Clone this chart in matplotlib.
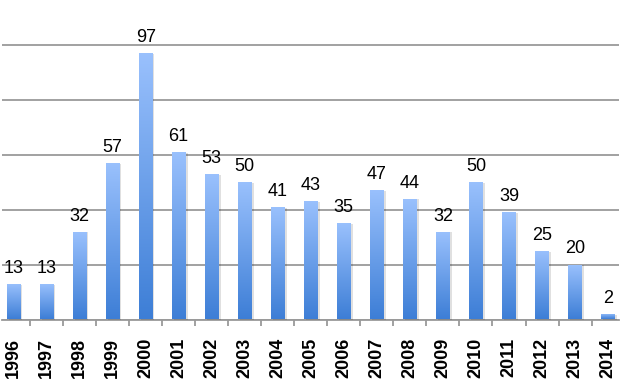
import numpy as np
import matplotlib
matplotlib.use("Agg")
import matplotlib.pyplot as plt
from matplotlib import patheffects as pe
from matplotlib.colors import LinearSegmentedColormap

years = [str(y) for y in range(1996, 2015)]
counts = [13, 13, 32, 57, 97, 61, 53, 50, 41, 43, 35, 47, 44, 32, 50, 39, 25, 20, 2]

TOP_COLOR = "#9ac1fd"
BOTTOM_COLOR = "#3d7ed6"
GRID_COLOR = "#9a9a9a"

plt.rcParams["font.family"] = ["Liberation Sans", "DejaVu Sans"]

fig = plt.figure(figsize=(6.21, 3.84), dpi=100)
ax = fig.add_axes([2 / 621, 1 - 319.5 / 384, 617 / 621, 319.5 / 384])

x = np.arange(len(years))
bars = ax.bar(x, counts, width=0.41, color="none", zorder=3,
              path_effects=[pe.SimplePatchShadow(offset=(1.5, -0.5), shadow_rgbFace="#000000", alpha=0.12)])

cmap = LinearSegmentedColormap.from_list("barfill", [BOTTOM_COLOR, TOP_COLOR])
grad = np.linspace(0, 1, 256).reshape(-1, 1)
for bar in bars:
    bx, by = bar.get_xy()
    bw, bh = bar.get_width(), bar.get_height()
    im = ax.imshow(grad, extent=[bx, bx + bw, by, by + bh], origin="lower",
                   aspect="auto", cmap=cmap, zorder=4)
    im.set_clip_path(bar)

for xi, val in zip(x, counts):
    ax.annotate(str(val), (xi, val), textcoords="offset points", xytext=(0, 8),
                ha="center", va="baseline", fontsize=13, color="black", zorder=5)

ax.set_xlim(-0.348, 18.33)
ax.set_ylim(0, 116.4)

ax.set_yticks([0, 20, 40, 60, 80, 100])
ax.yaxis.grid(True, color=GRID_COLOR, linewidth=1.3, zorder=0)
ax.tick_params(axis="y", left=False, labelleft=False)

ax.set_xticks(x)
ax.set_xticklabels(years, rotation=90, fontsize=13, fontweight="bold")
ax.tick_params(axis="x", which="major", length=0, pad=13)
ax.set_xticks(x[:-1] + 0.5, minor=True)
ax.tick_params(axis="x", which="minor", length=4.5, width=1.3, color=GRID_COLOR)

for side in ["top", "right", "left"]:
    ax.spines[side].set_visible(False)
ax.spines["bottom"].set_color(GRID_COLOR)
ax.spines["bottom"].set_linewidth(1.3)
ax.set_axisbelow(True)

fig.savefig("out.png", dpi=100)
